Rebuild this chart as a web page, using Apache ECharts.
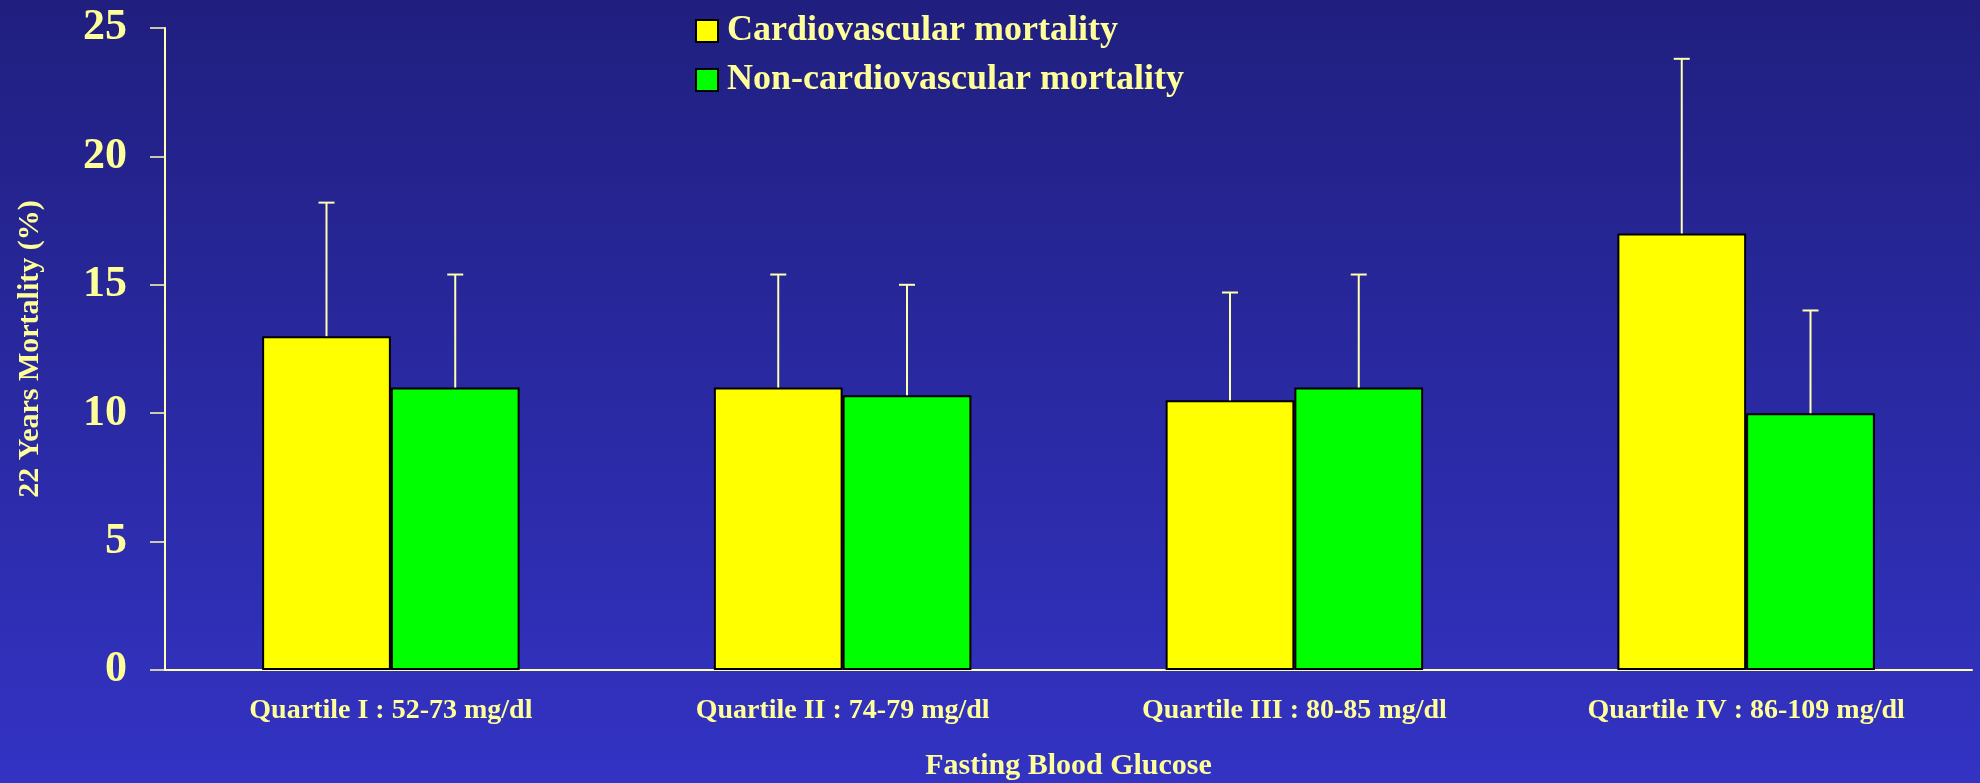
<!DOCTYPE html>
<html>
<head>
<meta charset="utf-8">
<title>22 Years Mortality by Fasting Blood Glucose</title>
<script src="https://cdn.jsdelivr.net/npm/echarts@6/dist/echarts.min.js"></script>
<style>
  html, body { margin: 0; padding: 0; }
  #chart { width: 1980px; height: 783px; }
</style>
</head>
<body>
<div id="chart"></div>
<script>
// data
const categories = [
  'Quartile I : 52-73 mg/dl',
  'Quartile II : 74-79 mg/dl',
  'Quartile III : 80-85 mg/dl',
  'Quartile IV : 86-109 mg/dl'
];
const cvMortality = [13, 11, 10.5, 17];
const cvErrorTop = [18.2, 15.4, 14.7, 23.8];
const nonCvMortality = [11, 10.7, 11, 10];
const nonCvErrorTop = [15.4, 15.0, 15.4, 14.0];
const seriesNames = ['Cardiovascular mortality', 'Non-cardiovascular mortality'];

const TEXT = '#ffff99';
const LINE = '#ffffb0';
const FONT = '"Liberation Serif", "Times New Roman", serif';
const GAP = 0.43; // barCategoryGap

const chart = echarts.init(document.getElementById('chart'));

// error bar (upper only) drawn next to the bars; side = -1 left bar, +1 right bar
function errorBar(side) {
  return function (params, api) {
    const i = api.value(0);
    const base = api.coord([i, api.value(1)]);
    const top = api.coord([i, api.value(2)]);
    const band = api.size([1, 0])[0];
    const barW = band * (1 - GAP) / 2;
    const x = base[0] + side * barW / 2;
    const style = { stroke: LINE, lineWidth: 2 };
    return {
      type: 'group',
      children: [
        { type: 'line', shape: { x1: x, y1: base[1], x2: x, y2: top[1] }, style },
        { type: 'line', shape: { x1: x - 8, y1: top[1], x2: x + 8, y2: top[1] }, style }
      ]
    };
  };
}

chart.setOption({
  animation: false,
  backgroundColor: new echarts.graphic.LinearGradient(0, 0, 0, 1, [
    { offset: 0, color: '#201f7f' },
    { offset: 1, color: '#3333c4' }
  ]),
  textStyle: { fontFamily: FONT, fontWeight: 'bold', color: TEXT },
  legend: {
    orient: 'vertical',
    left: 695,
    top: 13,
    padding: 0,
    itemWidth: 22,
    itemHeight: 22,
    itemGap: 13,
    icon: 'rect',
    data: seriesNames,
    textStyle: { color: TEXT, fontSize: 36, fontWeight: 'bold', fontFamily: FONT, padding: [0, 0, 0, 4] }
  },
  grid: { left: 165, right: 8, top: 28, bottom: 113, outerBoundsMode: 'none' },
  xAxis: {
    type: 'category',
    data: categories,
    name: 'Fasting Blood Glucose',
    nameLocation: 'middle',
    nameGap: 81,
    nameTextStyle: { color: TEXT, fontSize: 30, fontWeight: 'bold', fontFamily: FONT },
    axisLine: { lineStyle: { color: LINE, width: 2 } },
    axisTick: { length: 8, lineStyle: { color: LINE, width: 1.5 } },
    axisLabel: { color: TEXT, fontSize: 28, fontWeight: 'bold', fontFamily: FONT, margin: 27, interval: 0 }
  },
  yAxis: {
    type: 'value',
    min: 0,
    max: 25,
    interval: 5,
    name: '22 Years Mortality (%)',
    nameLocation: 'middle',
    nameRotate: 90,
    nameGap: 120,
    nameTextStyle: { color: TEXT, fontSize: 30, fontWeight: 'bold', fontFamily: FONT },
    axisLine: { show: true, lineStyle: { color: LINE, width: 2 } },
    axisTick: { show: true, length: 15, lineStyle: { color: LINE, width: 1.5 } },
    axisLabel: { color: TEXT, fontSize: 44, fontWeight: 'bold', fontFamily: FONT, margin: 38 },
    splitLine: { show: false }
  },
  series: [
    {
      name: seriesNames[0],
      type: 'bar',
      data: cvMortality,
      barGap: 0,
      barCategoryGap: (GAP * 100) + '%',
      itemStyle: { color: '#ffff00', borderColor: '#000', borderWidth: 2 }
    },
    {
      name: seriesNames[1],
      type: 'bar',
      data: nonCvMortality,
      itemStyle: { color: '#00ff00', borderColor: '#000', borderWidth: 2 }
    },
    {
      type: 'custom',
      renderItem: errorBar(-1),
      data: categories.map((c, i) => [i, cvMortality[i], cvErrorTop[i]]),
      z: 3,
      silent: true
    },
    {
      type: 'custom',
      renderItem: errorBar(1),
      data: categories.map((c, i) => [i, nonCvMortality[i], nonCvErrorTop[i]]),
      z: 3,
      silent: true
    }
  ]
});
</script>
</body>
</html>
